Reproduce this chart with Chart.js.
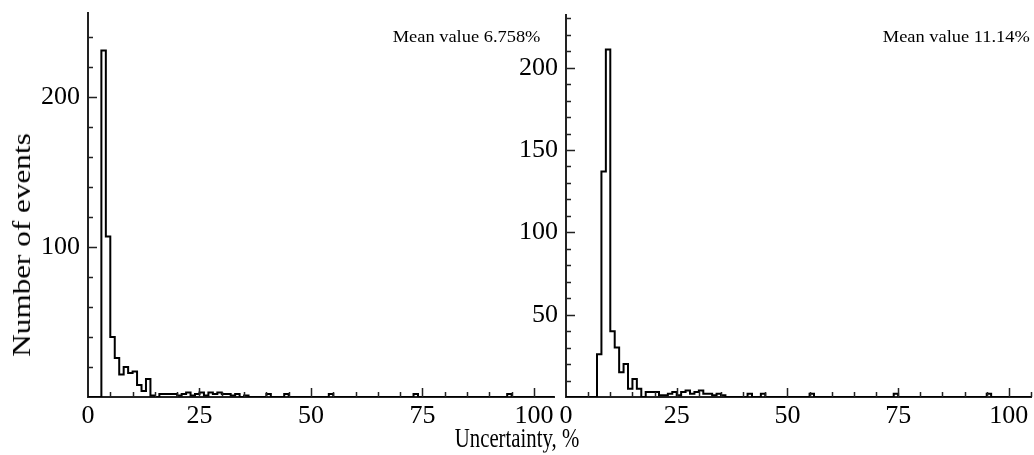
<!DOCTYPE html>
<html>
<head>
<meta charset="utf-8">
<script src="https://cdn.jsdelivr.net/npm/chart.js@4.4.1/dist/chart.umd.min.js"></script>
<style>
    html, body { margin: 0; padding: 0; background: #fff; }
    #wrap {
        position: relative; width: 1034px; height: 455px; overflow: hidden;
        font-family: "Liberation Serif", "Times New Roman", serif; color: #000;
    }
    .box { position: absolute; top: 0; height: 455px; }
    #left-box { left: 0; width: 560px; }
    #right-box { left: 470px; width: 564px; }
    .label { position: absolute; white-space: nowrap; line-height: 1; }
    #y-title {
        left: 22px; top: 245px; font-size: 26px;
        transform: translate(-50%, -50%) rotate(-90deg) scaleX(1.2);
    }
    #x-title {
        left: 517px; top: 438px; font-size: 27px;
        transform: translate(-50%, -50%) scaleX(0.77);
    }
    .mean { top: 29px; font-size: 16px; transform: scaleX(1.15); transform-origin: right center; }
    #left-mean { right: 494px; }
    #right-mean { right: 4px; }
</style>
</head>
<body>
<div id="wrap">
    <div class="box" id="left-box"><canvas id="left-chart"></canvas></div>
    <div class="box" id="right-box"><canvas id="right-chart"></canvas></div>
    <div class="label" id="y-title">Number of events</div>
    <div class="label" id="x-title">Uncertainty, %</div>
    <div class="label mean" id="left-mean">Mean value 6.758%</div>
    <div class="label mean" id="right-mean">Mean value 11.14%</div>
</div>
<script>
// histogram bins are 1 % wide, bin i covers [i, i+1)
const binWidth = 1;

// left panel: dense part from bin 0, plus a few lone events further out
const leftCounts = [0, 0, 0, 231, 107, 40, 26, 15, 20, 16, 17, 8, 4, 12, 1, 0,
    2, 2, 2, 2, 1, 2, 3, 1, 2, 3, 1, 3, 2, 3, 2, 2, 1, 2, 0, 1];
const leftLoneBins = [40, 44, 54, 73, 94];
const leftLoneCounts = [2, 2, 2, 2, 2];

// right panel
const rightCounts = [0, 0, 0, 0, 0, 0, 0, 26, 137, 211, 40, 30, 15, 20, 5, 11,
    5, 0, 3, 3, 3, 1, 1, 2, 3, 1, 3, 4, 2, 3, 4, 2, 2, 1, 2, 1];
const rightLoneBins = [41, 44, 55, 74, 95];
const rightLoneCounts = [2, 2, 2, 2, 2];

// tick labels
const xTicks = [0, 25, 50, 75, 100];
const leftYTicks = [100, 200];
const rightYTicks = [50, 100, 150, 200];

const serif = "'Liberation Serif', 'Times New Roman', serif";

function histogramPoints(counts, loneBins, loneCounts, lastEdge) {
    const full = [];
    for (let i = 0; i < lastEdge; i++) {
        full.push(counts[i] || 0);
    }
    loneBins.forEach((b, k) => {
        full[b] = loneCounts[k];
    });
    const points = full.map((c, i) => ({ x: i * binWidth, y: c }));
    points.push({ x: lastEdge * binWidth, y: 0 });
    return points;
}

// small inward tick marks like the original plot
const innerTicks = {
    id: "innerTicks",
    afterDraw(chart, args, opts) {
        const { ctx, chartArea } = chart;
        const x = chart.scales.x;
        const y = chart.scales.y;
        ctx.save();
        ctx.strokeStyle = "#222";
        ctx.lineWidth = 1.5;
        ctx.beginPath();
        for (let i = 1; i * opts.xMinor <= x.max; i++) {
            const v = i * opts.xMinor;
            const px = Math.round(x.getPixelForValue(v)) + 0.5;
            const len = v % opts.xMajor === 0 ? 9 : 5;
            ctx.moveTo(px, chartArea.bottom);
            ctx.lineTo(px, chartArea.bottom - len);
        }
        for (let i = 1; i * opts.yMinor <= y.max; i++) {
            const v = i * opts.yMinor;
            const py = Math.round(y.getPixelForValue(v)) + 0.5;
            const len = v % opts.yMajor === 0 ? 9 : 5;
            ctx.moveTo(chartArea.left, py);
            ctx.lineTo(chartArea.left + len, py);
        }
        ctx.stroke();
        ctx.restore();
    },
};

function makeHistogram(canvasId, cfg) {
    const canvas = document.getElementById(canvasId);
    if (!canvas) {
        return null;
    }
    return new Chart(canvas, {
        type: "line",
        data: {
            datasets: [
                {
                    data: cfg.points,
                    borderColor: "#000",
                    borderWidth: 2,
                    pointRadius: 0,
                    stepped: "before",
                    fill: false,
                },
            ],
        },
        options: {
            responsive: true,
            maintainAspectRatio: false,
            animation: false,
            events: [],
            layout: {
                padding: { top: cfg.top, right: cfg.right, left: 0, bottom: 0 },
            },
            scales: {
                x: {
                    type: "linear",
                    min: 0,
                    max: cfg.xMax,
                    grid: { display: false, drawTicks: false },
                    border: { display: true, color: "#222", width: 2 },
                    ticks: {
                        color: "#000",
                        padding: 4,
                        maxRotation: 0,
                        font: { family: serif, size: 26 },
                    },
                    afterBuildTicks: (s) => {
                        s.ticks = xTicks.map((v) => ({ value: v }));
                    },
                    afterFit: (s) => {
                        s.height = 58;
                        s.paddingLeft = 0;
                        s.paddingRight = 0;
                    },
                },
                y: {
                    type: "linear",
                    min: 0,
                    max: cfg.yMax,
                    grid: { display: false, drawTicks: false },
                    border: { display: true, color: "#222", width: 2 },
                    ticks: {
                        color: "#000",
                        padding: 8,
                        font: { family: serif, size: 26 },
                    },
                    afterBuildTicks: (s) => {
                        s.ticks = cfg.yTicks.map((v) => ({ value: v }));
                    },
                    afterFit: (s) => {
                        s.width = cfg.yWidth;
                        s.paddingTop = 0;
                        s.paddingBottom = 0;
                    },
                },
            },
            plugins: {
                legend: { display: false },
                tooltip: { enabled: false },
                innerTicks: cfg.minor,
            },
        },
        plugins: [innerTicks],
    });
}

makeHistogram("left-chart", {
    points: histogramPoints(leftCounts, leftLoneBins, leftLoneCounts, 105),
    xMax: 104.5,
    yMax: 256,
    yTicks: leftYTicks,
    yWidth: 88,
    top: 13,
    right: 6,
    minor: { xMinor: 5, xMajor: 25, yMinor: 20, yMajor: 100 },
});

makeHistogram("right-chart", {
    points: histogramPoints(rightCounts, rightLoneBins, rightLoneCounts, 105),
    xMax: 105,
    yMax: 232,
    yTicks: rightYTicks,
    yWidth: 96,
    top: 15,
    right: 3,
    minor: { xMinor: 5, xMajor: 25, yMinor: 10, yMajor: 50 },
});
</script>
</body>
</html>
